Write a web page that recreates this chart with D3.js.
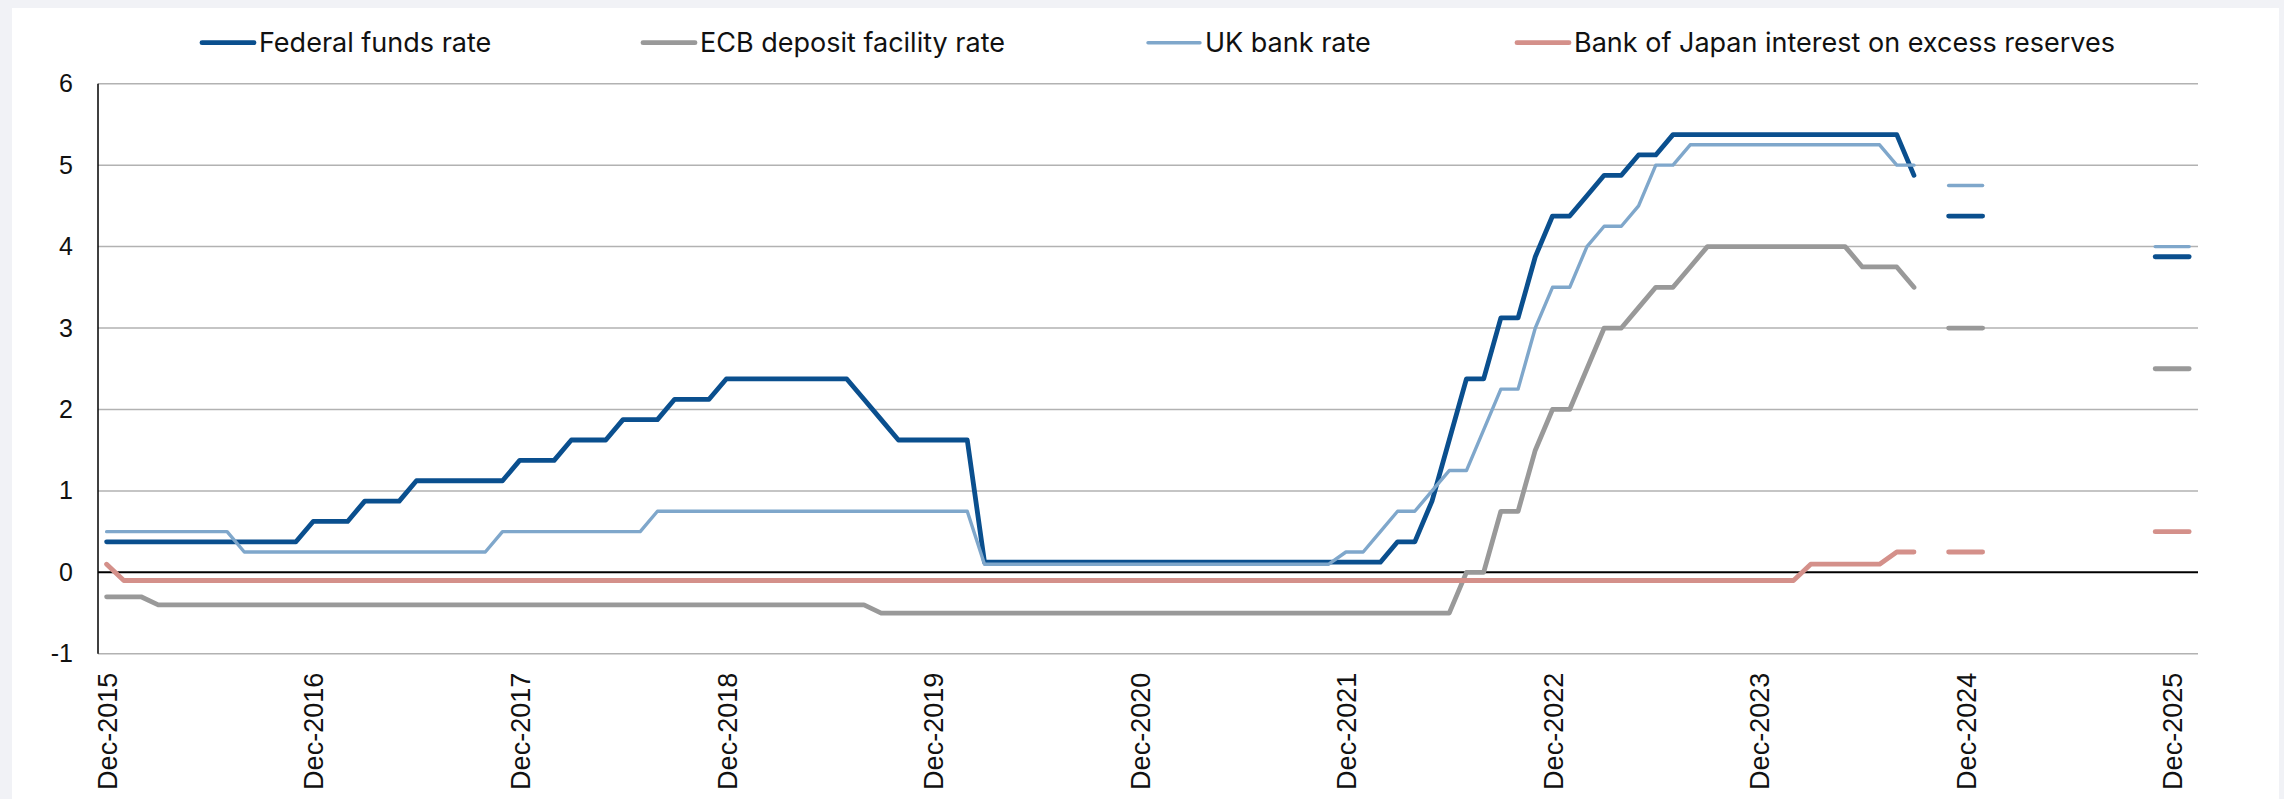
<!DOCTYPE html>
<html>
<head>
<meta charset="utf-8">
<script src="https://cdn.jsdelivr.net/npm/d3@7"></script>
<style>
    body { margin: 0; background: #f1f2f6; }
    svg { display: block; }
</style>
</head>
<body>
<div id="ratechart"></div>
<script>
// Monthly policy rates, Dec-2015 .. Sep-2024 (one value per month)
const fedFunds = [
    0.375, 0.375, 0.375, 0.375, 0.375, 0.375, 0.375, 0.375, 0.375, 0.375, 0.375, 0.375,
    0.625, 0.625, 0.625, 0.875, 0.875, 0.875, 1.125, 1.125, 1.125, 1.125, 1.125, 1.125,
    1.375, 1.375, 1.375, 1.625, 1.625, 1.625, 1.875, 1.875, 1.875, 2.125, 2.125, 2.125,
    2.375, 2.375, 2.375, 2.375, 2.375, 2.375, 2.375, 2.375, 2.125, 1.875, 1.625, 1.625,
    1.625, 1.625, 1.625, 0.125, 0.125, 0.125, 0.125, 0.125, 0.125, 0.125, 0.125, 0.125,
    0.125, 0.125, 0.125, 0.125, 0.125, 0.125, 0.125, 0.125, 0.125, 0.125, 0.125, 0.125,
    0.125, 0.125, 0.125, 0.375, 0.375, 0.875, 1.625, 2.375, 2.375, 3.125, 3.125, 3.875,
    4.375, 4.375, 4.625, 4.875, 4.875, 5.125, 5.125, 5.375, 5.375, 5.375, 5.375, 5.375,
    5.375, 5.375, 5.375, 5.375, 5.375, 5.375, 5.375, 5.375, 5.375, 4.875
];
const ecbDeposit = [
    -0.3, -0.3, -0.3, -0.4, -0.4, -0.4, -0.4, -0.4, -0.4, -0.4, -0.4, -0.4,
    -0.4, -0.4, -0.4, -0.4, -0.4, -0.4, -0.4, -0.4, -0.4, -0.4, -0.4, -0.4,
    -0.4, -0.4, -0.4, -0.4, -0.4, -0.4, -0.4, -0.4, -0.4, -0.4, -0.4, -0.4,
    -0.4, -0.4, -0.4, -0.4, -0.4, -0.4, -0.4, -0.4, -0.4, -0.5, -0.5, -0.5,
    -0.5, -0.5, -0.5, -0.5, -0.5, -0.5, -0.5, -0.5, -0.5, -0.5, -0.5, -0.5,
    -0.5, -0.5, -0.5, -0.5, -0.5, -0.5, -0.5, -0.5, -0.5, -0.5, -0.5, -0.5,
    -0.5, -0.5, -0.5, -0.5, -0.5, -0.5, -0.5, 0, 0, 0.75, 0.75, 1.5,
    2.0, 2.0, 2.5, 3.0, 3.0, 3.25, 3.5, 3.5, 3.75, 4.0, 4.0, 4.0,
    4.0, 4.0, 4.0, 4.0, 4.0, 4.0, 3.75, 3.75, 3.75, 3.5
];
const ukBank = [
    0.5, 0.5, 0.5, 0.5, 0.5, 0.5, 0.5, 0.5, 0.25, 0.25, 0.25, 0.25,
    0.25, 0.25, 0.25, 0.25, 0.25, 0.25, 0.25, 0.25, 0.25, 0.25, 0.25, 0.5,
    0.5, 0.5, 0.5, 0.5, 0.5, 0.5, 0.5, 0.5, 0.75, 0.75, 0.75, 0.75,
    0.75, 0.75, 0.75, 0.75, 0.75, 0.75, 0.75, 0.75, 0.75, 0.75, 0.75, 0.75,
    0.75, 0.75, 0.75, 0.1, 0.1, 0.1, 0.1, 0.1, 0.1, 0.1, 0.1, 0.1,
    0.1, 0.1, 0.1, 0.1, 0.1, 0.1, 0.1, 0.1, 0.1, 0.1, 0.1, 0.1,
    0.25, 0.25, 0.5, 0.75, 0.75, 1.0, 1.25, 1.25, 1.75, 2.25, 2.25, 3.0,
    3.5, 3.5, 4.0, 4.25, 4.25, 4.5, 5.0, 5.0, 5.25, 5.25, 5.25, 5.25,
    5.25, 5.25, 5.25, 5.25, 5.25, 5.25, 5.25, 5.25, 5.0, 5.0
];
const bojIoer = [
    0.1, -0.1, -0.1, -0.1, -0.1, -0.1, -0.1, -0.1, -0.1, -0.1, -0.1, -0.1,
    -0.1, -0.1, -0.1, -0.1, -0.1, -0.1, -0.1, -0.1, -0.1, -0.1, -0.1, -0.1,
    -0.1, -0.1, -0.1, -0.1, -0.1, -0.1, -0.1, -0.1, -0.1, -0.1, -0.1, -0.1,
    -0.1, -0.1, -0.1, -0.1, -0.1, -0.1, -0.1, -0.1, -0.1, -0.1, -0.1, -0.1,
    -0.1, -0.1, -0.1, -0.1, -0.1, -0.1, -0.1, -0.1, -0.1, -0.1, -0.1, -0.1,
    -0.1, -0.1, -0.1, -0.1, -0.1, -0.1, -0.1, -0.1, -0.1, -0.1, -0.1, -0.1,
    -0.1, -0.1, -0.1, -0.1, -0.1, -0.1, -0.1, -0.1, -0.1, -0.1, -0.1, -0.1,
    -0.1, -0.1, -0.1, -0.1, -0.1, -0.1, -0.1, -0.1, -0.1, -0.1, -0.1, -0.1,
    -0.1, -0.1, -0.1, 0.1, 0.1, 0.1, 0.1, 0.1, 0.25, 0.25
];

// Projections shown as short dashes
const projectionDates = ["Dec-2024", "Dec-2025"];
const fedProjection = [4.375, 3.875];
const ecbProjection = [3.0, 2.5];
const ukProjection = [4.75, 4.0];
const bojProjection = [0.25, 0.5];

const seriesNames = ["Federal funds rate", "ECB deposit facility rate", "UK bank rate",
    "Bank of Japan interest on excess reserves"];
const yTicks = [-1, 0, 1, 2, 3, 4, 5, 6];

// Month categories Dec-2015 .. Jan-2026
const monthNames = ["Jan", "Feb", "Mar", "Apr", "May", "Jun", "Jul", "Aug", "Sep", "Oct", "Nov", "Dec"];
const categories = ["Dec-2015"];
for (let yr = 2016; yr <= 2025; yr++) {
    monthNames.forEach(function (m) { categories.push(m + "-" + yr); });
}
categories.push("Jan-2026");
const xTickLabels = categories.filter(function (c) { return c.startsWith("Dec"); });

const width = 2284, height = 799;
const plot = { left: 98, right: 2198, top: 83.7, bottom: 653.8 };

const styles = [
    { color: "#0a4f8e", width: 4.8 },
    { color: "#999999", width: 4.8 },
    { color: "#7fa7cb", width: 3.4 },
    { color: "#d4908a", width: 4.8 }
];
const actuals = [fedFunds, ecbDeposit, ukBank, bojIoer];
const projections = [fedProjection, ecbProjection, ukProjection, bojProjection];

const svg = d3.select("#ratechart").append("svg")
    .attr("width", width)
    .attr("height", height);

svg.append("rect")
    .attr("x", 12).attr("y", 8)
    .attr("width", 2267).attr("height", height - 8)
    .attr("fill", "#ffffff");

const x = d3.scalePoint().domain(categories).range([plot.left, plot.right]).padding(0.5);
const y = d3.scaleLinear().domain([-1, 6]).range([plot.bottom, plot.top]);

// gridlines
svg.append("g")
    .selectAll("line")
    .data(yTicks.filter(function (d) { return d !== 0; }))
    .enter().append("line")
    .attr("x1", plot.left).attr("x2", plot.right)
    .attr("y1", function (d) { return y(d); })
    .attr("y2", function (d) { return y(d); })
    .attr("stroke", "#b2b2b2")
    .attr("stroke-width", 1.5);

// y axis labels
const yAxis = svg.append("g")
    .attr("transform", "translate(" + (plot.left - 25) + ",0)")
    .call(d3.axisLeft(y).tickValues(yTicks).tickSize(0).tickPadding(0)
        .tickFormat(function (d) { return String(d); }));
yAxis.select(".domain").remove();
yAxis.selectAll("text")
    .attr("font-family", "'Liberation Sans', Arial, sans-serif")
    .attr("font-size", 25)
    .attr("fill", "#111");

// x axis labels
const xAxis = svg.append("g")
    .attr("transform", "translate(0," + plot.bottom + ")")
    .call(d3.axisBottom(x).tickValues(xTickLabels).tickSize(0));
xAxis.select(".domain").remove();
xAxis.selectAll("text")
    .attr("font-family", "'Liberation Sans', Arial, sans-serif")
    .attr("font-size", 27)
    .attr("fill", "#111")
    .attr("text-anchor", "end")
    .attr("transform", "translate(0,19) rotate(-90)")
    .attr("x", 0)
    .attr("y", 0)
    .attr("dy", "0.36em");

// zero line and left axis
svg.append("line")
    .attr("x1", plot.left).attr("x2", plot.right)
    .attr("y1", y(0)).attr("y2", y(0))
    .attr("stroke", "#000").attr("stroke-width", 2);
svg.append("line")
    .attr("x1", plot.left).attr("x2", plot.left)
    .attr("y1", plot.top).attr("y2", plot.bottom)
    .attr("stroke", "#000").attr("stroke-width", 1.5);

const line = d3.line()
    .x(function (d, i) { return x(categories[i]); })
    .y(function (d) { return y(d); });

actuals.forEach(function (values, k) {
    svg.append("path")
        .datum(values)
        .attr("d", line)
        .attr("fill", "none")
        .attr("stroke", styles[k].color)
        .attr("stroke-width", styles[k].width)
        .attr("stroke-linejoin", "round")
        .attr("stroke-linecap", "round");
});

// projection dashes
const dashHalf = 17;
projections.forEach(function (values, k) {
    svg.append("g")
        .selectAll("line")
        .data(values)
        .enter().append("line")
        .attr("x1", function (d, i) { return x(projectionDates[i]) - dashHalf; })
        .attr("x2", function (d, i) { return x(projectionDates[i]) + dashHalf; })
        .attr("y1", function (d) { return y(d); })
        .attr("y2", function (d) { return y(d); })
        .attr("stroke", styles[k].color)
        .attr("stroke-width", styles[k].width)
        .attr("stroke-linecap", "round");
});

// legend
const legendX = [200, 641, 1146, 1515];
const legendY = 42.7;
const legend = svg.append("g").selectAll("g")
    .data(seriesNames)
    .enter().append("g")
    .attr("transform", function (d, i) { return "translate(" + legendX[i] + "," + legendY + ")"; });
legend.append("line")
    .attr("x1", 2).attr("x2", 54)
    .attr("stroke", function (d, i) { return styles[i].color; })
    .attr("stroke-width", function (d, i) { return styles[i].width; })
    .attr("stroke-linecap", "round");
legend.append("text")
    .attr("x", 59)
    .attr("dy", "0.36em")
    .attr("font-family", "Inter, sans-serif")
    .attr("font-size", 27)
    .attr("fill", "#111")
    .text(function (d) { return d; });
</script>
</body>
</html>
